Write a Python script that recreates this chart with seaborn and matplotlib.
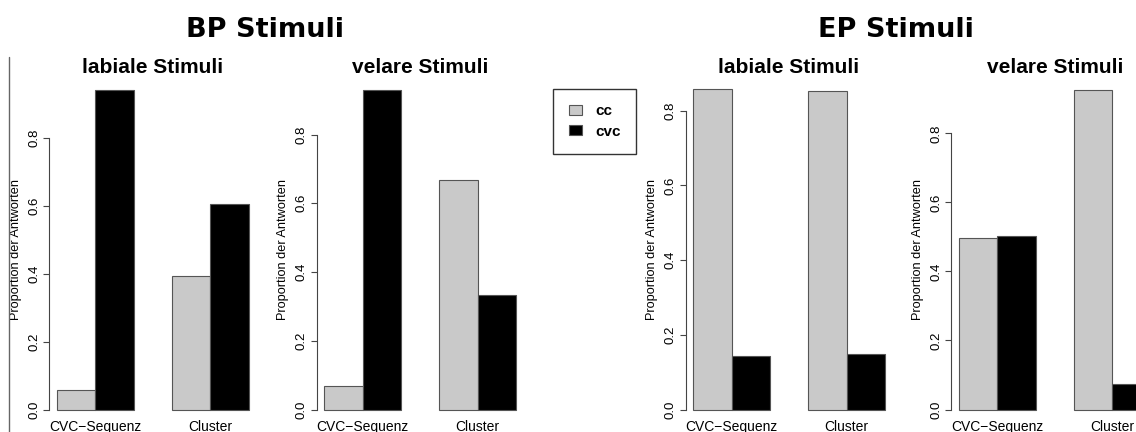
import numpy as np
import pandas as pd
import matplotlib
matplotlib.use("Agg")
import matplotlib.pyplot as plt
from matplotlib.lines import Line2D
import seaborn as sns

sns.set_style("ticks")
plt.rcParams["font.family"] = ["Liberation Sans", "DejaVu Sans"]
plt.rcParams["text.color"] = "black"
plt.rcParams["xtick.color"] = "black"
plt.rcParams["ytick.color"] = "black"
plt.rcParams["axes.labelcolor"] = "black"

# Daten
kategorien = ["CVC\u2212Sequenz", "Cluster"]
antworten = ["cc", "cvc"]

bp_labial_cc = [0.057, 0.393]
bp_labial_cvc = [0.943, 0.607]
bp_velar_cc = [0.069, 0.668]
bp_velar_cvc = [0.931, 0.332]
ep_labial_cc = [0.857, 0.852]
ep_labial_cvc = [0.143, 0.148]
ep_velar_cc = [0.498, 0.927]
ep_velar_cvc = [0.502, 0.073]

panel_titel = ["labiale Stimuli", "velare Stimuli", "labiale Stimuli", "velare Stimuli"]
gruppen_titel = ["BP Stimuli", "EP Stimuli"]
y_ticks = [0.0, 0.2, 0.4, 0.6, 0.8]
y_label = "Proportion der Antworten"
farben = ["#c9c9c9", "#000000"]


def long_df(cc, cvc):
    return pd.DataFrame({
        "kategorie": kategorien * 2,
        "antwort": [antworten[0]] * 2 + [antworten[1]] * 2,
        "proportion": cc + cvc,
    })


panels = [
    long_df(bp_labial_cc, bp_labial_cvc),
    long_df(bp_velar_cc, bp_velar_cvc),
    long_df(ep_labial_cc, ep_labial_cvc),
    long_df(ep_velar_cc, ep_velar_cvc),
]

W, H = 1136, 432
fig = plt.figure(figsize=(W / 100, H / 100), dpi=100)

# Plotregionen in Pixeln (links), wie im R-Layout
lefts = [49.3, 316.5, 685.5, 951.3]
pw, pb, ph = 207, 9.7, 345.6

handles, labels = None, None
for i, df in enumerate(panels):
    ax = fig.add_axes([lefts[i] / W, pb / H, pw / W, ph / H])
    sns.barplot(data=df, x="kategorie", y="proportion", hue="antwort",
                hue_order=antworten, palette=farben, saturation=1,
                width=2 / 3, edgecolor="#555555", linewidth=0.8, ax=ax)
    leg = ax.get_legend()
    if handles is None:
        handles = leg.legend_handles
        labels = [t.get_text() for t in leg.get_texts()]
    leg.remove()

    ymax = df["proportion"].max()
    ax.set_ylim(-0.04 * ymax, 1.04 * ymax)
    ax.set_xlim(-0.4, 1.4)
    ax.set_yticks(y_ticks)
    ax.set_yticklabels([f"{t:.1f}" for t in y_ticks])
    for s in ["top", "right", "bottom"]:
        ax.spines[s].set_visible(False)
    ax.spines["left"].set_bounds(0, 0.8)
    ax.spines["left"].set_color("#444444")
    ax.spines["left"].set_linewidth(0.8)
    ax.tick_params(axis="y", length=4.3, width=0.8, color="#444444",
                   labelsize=9.5, pad=2)
    plt.setp(ax.get_yticklabels(), rotation=90, va="center")
    ax.tick_params(axis="x", length=0, labelsize=10, pad=-1.5)
    ax.set_xlabel("")
    ax.set_ylabel(y_label, fontsize=9.2)
    ax.yaxis.set_label_coords(-0.132, 0.5)
    ax.set_title(panel_titel[i], fontsize=15, fontweight="bold", pad=-3.5)
    ax.set_facecolor("none")
    ax.grid(False)

# Obertitel
gx = [265.3, 895.8]
for t, x in zip(gruppen_titel, gx):
    fig.text(x / W, 1 - 37.3 / H, t, ha="center", va="baseline",
             fontsize=19.5, fontweight="bold", family=["DejaVu Sans"])

# Legende
fig.legend(handles, labels, loc="upper left",
           bbox_to_anchor=(553.3 / W, 1 - 89 / H), borderaxespad=0,
           prop={"weight": "bold", "size": 11}, frameon=True, fancybox=False,
           edgecolor="#333333", framealpha=1, handlelength=0.85, handleheight=0.6,
           handletextpad=0.9, borderpad=1.0, labelspacing=0.42)

# senkrechte Linie am linken Rand
fig.add_artist(Line2D([9.3 / W, 9.3 / W], [0, 1 - 57.3 / H],
                      color="#666666", linewidth=1))

fig.savefig("out.png", dpi=100)
